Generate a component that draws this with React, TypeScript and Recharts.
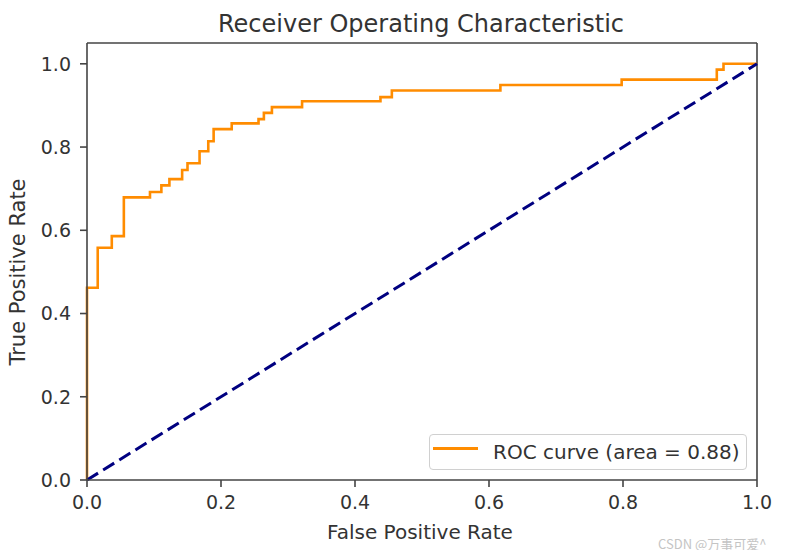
import React from "react";
import {
  LineChart,
  Line,
  XAxis,
  YAxis,
  Legend,
  ReferenceLine,
} from "recharts";

// ROC curve corner points
const fpr = [
  0, 0, 0.016, 0.016, 0.037, 0.037, 0.055, 0.055, 0.094, 0.094, 0.111, 0.111,
  0.123, 0.123, 0.142, 0.142, 0.15, 0.15, 0.168, 0.168, 0.181, 0.181, 0.189,
  0.189, 0.216, 0.216, 0.256, 0.256, 0.264, 0.264, 0.276, 0.276, 0.321, 0.321,
  0.438, 0.438, 0.455, 0.455, 0.617, 0.617, 0.798, 0.798, 0.94, 0.94, 0.95,
  0.95, 1.0,
];
const tpr = [
  0, 0.462, 0.462, 0.558, 0.558, 0.586, 0.586, 0.679, 0.679, 0.692, 0.692,
  0.708, 0.708, 0.723, 0.723, 0.745, 0.745, 0.761, 0.761, 0.79, 0.79, 0.814,
  0.814, 0.843, 0.843, 0.857, 0.857, 0.867, 0.867, 0.882, 0.882, 0.896, 0.896,
  0.91, 0.91, 0.92, 0.92, 0.936, 0.936, 0.949, 0.949, 0.962, 0.962, 0.986,
  0.986, 1.0, 1.0,
];
const chanceFpr = [0, 1];
const chanceTpr = [0, 1];

const xTicks = [0, 0.2, 0.4, 0.6, 0.8, 1.0];
const yTicks = [0, 0.2, 0.4, 0.6, 0.8, 1.0];
const rocLabel = "ROC curve (area = 0.88)";

const FONT = "'DejaVu Sans', sans-serif";
const SPINE = "#444";
const TEXT = "#333";

const rocData = fpr.map((f, i) => ({ fpr: f, tpr: tpr[i] }));
const chanceData = chanceFpr.map((f, i) => ({ fpr: f, tpr: chanceTpr[i] }));

function RocLegend() {
  return (
    <div
      style={{
        position: "relative",
        width: 318,
        height: 36,
        boxSizing: "border-box",
        border: "1px solid #d0d0d0",
        borderRadius: 4,
        background: "rgba(255,255,255,0.8)",
      }}
    >
      <div
        style={{
          position: "absolute",
          left: 3,
          top: 12,
          width: 45,
          height: 3,
          background: "#ff8c00",
        }}
      />
      <div
        style={{
          position: "absolute",
          left: 63,
          top: 7,
          fontFamily: FONT,
          fontSize: 20,
          lineHeight: "20px",
          color: TEXT,
          whiteSpace: "nowrap",
        }}
      >
        {rocLabel}
      </div>
    </div>
  );
}

export default function App() {
  const tick = { fontSize: 19, fill: TEXT, fontFamily: FONT };
  return (
    <div
      style={{
        position: "relative",
        margin: -8,
        width: 785,
        height: 558,
        background: "#fff",
        overflow: "hidden",
      }}
    >
      <LineChart
        width={785}
        height={558}
        margin={{ top: 43, right: 28, bottom: 48, left: 27 }}
      >
        <XAxis
          dataKey="fpr"
          type="number"
          domain={[0, 1]}
          ticks={xTicks}
          tickFormatter={(v) => Number(v).toFixed(1)}
          tick={tick}
          tickSize={7}
          tickMargin={9}
          height={30}
          axisLine={{ stroke: SPINE, strokeWidth: 1.6 }}
          tickLine={{ stroke: SPINE, strokeWidth: 1.6 }}
        />
        <YAxis
          type="number"
          domain={[0, 1.05]}
          ticks={yTicks}
          tickFormatter={(v) => Number(v).toFixed(1)}
          tick={tick}
          tickSize={7}
          tickMargin={9}
          width={60}
          axisLine={{ stroke: SPINE, strokeWidth: 1.6 }}
          tickLine={{ stroke: SPINE, strokeWidth: 1.6 }}
        />
        <ReferenceLine y={1.05} stroke={SPINE} strokeWidth={1.6} ifOverflow="visible" />
        <ReferenceLine x={1} stroke={SPINE} strokeWidth={1.6} ifOverflow="visible" />
        <Line
          data={rocData}
          dataKey="tpr"
          name={rocLabel}
          type="linear"
          stroke="#ff8c00"
          strokeWidth={2.6}
          dot={false}
          activeDot={false}
          isAnimationActive={false}
        />
        <Line
          data={chanceData}
          dataKey="tpr"
          name="chance"
          type="linear"
          stroke="#000080"
          strokeWidth={3}
          strokeDasharray="13 6"
          dot={false}
          activeDot={false}
          isAnimationActive={false}
          legendType="none"
        />
        <Legend
          layout="horizontal"
          verticalAlign="middle"
          align="center"
          content={() => <RocLegend />}
          wrapperStyle={{ left: 429, top: 434, width: 318, height: 36, bottom: "auto" }}
        />
      </LineChart>
      <svg
        width={785}
        height={558}
        style={{ position: "absolute", left: 0, top: 0, pointerEvents: "none" }}
      >
        <text x={421} y={31.5} textAnchor="middle" fontFamily={FONT} fontSize={24} fill={TEXT}>
          Receiver Operating Characteristic
        </text>
        <text x={420} y={539} textAnchor="middle" fontFamily={FONT} fontSize={20} fill={TEXT}>
          False Positive Rate
        </text>
        <text
          x={25}
          y={272}
          textAnchor="middle"
          fontFamily={FONT}
          fontSize={21}
          fill={TEXT}
          transform="rotate(-90, 25, 272)"
        >
          True Positive Rate
        </text>
        <text x={658} y={549} fontFamily="'Noto Sans CJK SC', sans-serif" fontSize={13} fill="#c4c4c4">
          CSDN @万事可爱^
        </text>
        <rect x={0} y={554} width={785} height={4} fill="#1b1b1b" />
      </svg>
    </div>
  );
}
